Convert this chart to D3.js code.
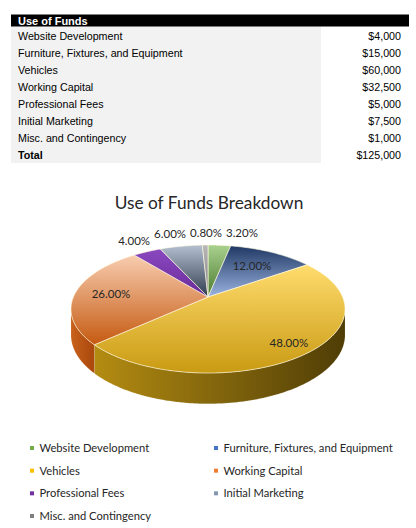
<!DOCTYPE html>
<html>
<head>
<meta charset="utf-8">
<script src="https://cdn.jsdelivr.net/npm/d3@7"></script>
<style>
  body { margin: 0; background: #fff; }
  svg { display: block; }
</style>
</head>
<body>
<div class="vis-funds"></div>
<script>
const categories = [
    "Website Development",
    "Furniture, Fixtures, and Equipment",
    "Vehicles",
    "Working Capital",
    "Professional Fees",
    "Initial Marketing",
    "Misc. and Contingency"
];
const amounts = [4000, 15000, 60000, 32500, 5000, 7500, 1000];
const tableTitle = "Use of Funds";
const totalLabel = "Total";
const chartTitle = "Use of Funds Breakdown";

// top face gradient (far end, near end), side colour pair, legend swatch
const topColors = [
    ["#a9d18e", "#4a7a30"],
    ["#1f3864", "#9ab3e0"],
    ["#ffdc6e", "#c99a12"],
    ["#f8cdb0", "#c55a11"],
    ["#8a48c0", "#6a2c98"],
    ["#b4c0d0", "#2f3c4f"],
    ["#b8b8b8", "#7a7a7a"]
];
const sideColors = [
    ["#5e8c42", "#3c5e28"],
    ["#2f4d8a", "#1f3864"],
    ["#b48c12", "#4f3d06"],
    ["#c8621c", "#a9470c"],
    ["#6a2c98", "#4e1f72"],
    ["#7f8fa6", "#44546a"],
    ["#8a8a8a", "#666666"]
];
const swatchColors = ["#70ad47", "#4472c4", "#ffc000", "#ed7d31", "#7030a0", "#8497b0", "#808080"];

const W = 416, H = 528;
const labelFont = "Lato, 'Open Sans', sans-serif";
const tableFont = "'Liberation Sans', Arial, sans-serif";

const svg = d3.select('.vis-funds').append('svg')
    .attr('width', W)
    .attr('height', H);

// ---------- table ----------
const total = d3.sum(amounts);
const money = d3.format("$,");
const rows = categories.map((c, i) => ({name: c, value: amounts[i], bold: false}));
rows.push({name: totalLabel, value: total, bold: true});

const rowY = d3.scaleBand()
    .domain(d3.range(rows.length))
    .range([28, 164]);

const table = svg.append("g").attr("class", "table");
table.append("rect")
    .attr("x", 11).attr("y", 26)
    .attr("width", 310).attr("height", 137)
    .attr("fill", "#f2f2f2");
table.append("rect")
    .attr("x", 11).attr("y", 14.5)
    .attr("width", 398).attr("height", 12)
    .attr("fill", "#000");
table.append("text")
    .attr("x", 18).attr("y", 21)
    .attr("dy", "0.35em")
    .attr("font-family", tableFont)
    .attr("font-size", 11)
    .attr("font-weight", "bold")
    .attr("fill", "#fff")
    .text(tableTitle);

const row = table.selectAll(".row")
    .data(rows)
    .enter().append("g")
    .attr("class", "row")
    .attr("transform", (d, i) => "translate(0," + (rowY(i) + rowY.bandwidth() / 2) + ")")
    .attr("font-family", tableFont)
    .attr("font-size", 10.7)
    .attr("fill", "#000")
    .attr("font-weight", d => d.bold ? "bold" : "normal");
row.append("text")
    .attr("x", 18)
    .attr("dy", "0.35em")
    .text(d => d.name);
row.append("text")
    .attr("x", 401)
    .attr("dy", "0.35em")
    .attr("text-anchor", "end")
    .attr("font-weight", "normal")
    .text(d => money(d.value));

// ---------- chart title ----------
svg.append("text")
    .attr("x", 209).attr("y", 203)
    .attr("dy", "0.35em")
    .attr("text-anchor", "middle")
    .attr("font-family", labelFont)
    .attr("font-size", 17.3)
    .attr("fill", "#262626")
    .text(chartTitle);

// ---------- 3d pie ----------
const P = {cx: 208, cy: 297, rx: 134.6, ry: 61.75, dist: 5.333, depth: 25};

// project an angle (0 = far side, clockwise) onto the tilted disc
function proj(a, r = 1, drop = 0) {
    const f = P.dist / (P.dist + r * Math.cos(a));
    return [
        P.cx + P.rx * r * Math.sin(a) * f,
        P.cy - P.ry * r * Math.cos(a) * f + drop * f
    ];
}
function rim(a0, a1, drop) {
    const n = Math.max(2, Math.ceil((a1 - a0) / 0.01));
    return d3.range(n + 1).map(k => proj(a0 + (a1 - a0) * k / n, 1, drop));
}

const arcs = d3.pie().sort(null).startAngle(0).endAngle(2 * Math.PI)(amounts);
const defs = svg.append("defs");

arcs.forEach((d, i) => {
    const gt = defs.append("linearGradient")
        .attr("id", "top" + i)
        .attr("x1", 0).attr("y1", 0).attr("x2", 0).attr("y2", 1);
    gt.append("stop").attr("offset", "0%").attr("stop-color", topColors[i][0]);
    gt.append("stop").attr("offset", "100%").attr("stop-color", topColors[i][1]);
    const gs = defs.append("linearGradient")
        .attr("id", "side" + i)
        .attr("x1", 0).attr("y1", 0).attr("x2", 1).attr("y2", 0);
    gs.append("stop").attr("offset", "0%").attr("stop-color", sideColors[i][0]);
    gs.append("stop").attr("offset", "100%").attr("stop-color", sideColors[i][1]);
});

const line = d3.line();
const pieG = svg.append("g").attr("class", "pie");

// visible outer wall lies between the two silhouette angles
const sil0 = Math.acos(-1 / P.dist);
const sil1 = 2 * Math.PI - sil0;

arcs.forEach((d, i) => {
    const s = Math.max(d.startAngle, sil0);
    const e = Math.min(d.endAngle, sil1);
    if (e <= s) return;
    const pts = rim(s, e, 0).concat(rim(s, e, P.depth).reverse());
    pieG.append("path")
        .attr("d", line(pts) + "Z")
        .attr("fill", "url(#side" + i + ")")
        .attr("stroke", "rgba(255,255,255,0.25)")
        .attr("stroke-width", 0.5);
});

pieG.selectAll(".slice")
    .data(arcs)
    .enter().append("path")
    .attr("class", "slice")
    .attr("d", d => line([[P.cx, P.cy]].concat(rim(d.startAngle, d.endAngle, 0))) + "Z")
    .attr("fill", (d, i) => "url(#top" + i + ")")
    .attr("stroke", "rgba(255,250,225,0.8)")
    .attr("stroke-width", 0.8)
    .attr("stroke-linejoin", "round");

// ---------- data labels ----------
const pct = d3.format(".2%");
const labelG = svg.append("g")
    .attr("font-family", labelFont)
    .attr("font-size", 11.5)
    .attr("fill", "#262626");

const labels = arcs.map((d, i) => {
    const share = d.value / total;
    const mid = (d.startAngle + d.endAngle) / 2;
    return {i, share, mid, inside: share >= 0.1, text: pct(share)};
});

labels.forEach(l => {
    l.node = labelG.append("text")
        .attr("text-anchor", "middle")
        .attr("dy", "0.35em")
        .text(l.text);
    l.w = l.node.node().getComputedTextLength();
    if (l.inside) {
        [l.x, l.y] = proj(l.mid, 0.6 + l.share * 0.5);
    } else {
        const [rx, ry] = proj(l.mid, 1);
        l.x = rx + Math.sin(l.mid) * (l.w / 2 + 8) + 4;
        l.y = ry - Math.cos(l.mid) * 12.5;
    }
});

// spread the outside labels so they do not overlap
const outside = labels.filter(l => !l.inside).sort((a, b) => a.x - b.x);
for (let iter = 0; iter < 200; iter++) {
    let moved = false;
    for (let k = 1; k < outside.length; k++) {
        const a = outside[k - 1], b = outside[k];
        const gap = (a.x + a.w / 2 + 4) - (b.x - b.w / 2);
        if (gap > 0.01 && Math.abs(a.y - b.y) < 12) {
            a.x -= gap / 2;
            b.x += gap / 2;
            moved = true;
        }
    }
    if (!moved) break;
}
labels.forEach(l => l.node.attr("x", l.x).attr("y", l.y));

// ---------- legend ----------
const legend = svg.append("g")
    .attr("font-family", labelFont)
    .attr("font-size", 11.2)
    .attr("fill", "#262626");
const colX = d3.scaleOrdinal().domain([0, 1]).range([32, 216]);
const rowL = d3.scaleLinear().domain([0, 3]).range([448, 516]);

const item = legend.selectAll(".item")
    .data(categories)
    .enter().append("g")
    .attr("class", "item")
    .attr("transform", (d, i) => "translate(" + colX(i % 2) + "," + rowL(Math.floor(i / 2)) + ")");
item.append("rect")
    .attr("x", -2).attr("y", -2)
    .attr("width", 4).attr("height", 4)
    .attr("fill", (d, i) => swatchColors[i]);
item.append("text")
    .attr("x", 7.5)
    .attr("dy", "0.35em")
    .text(d => d);
</script>
</body>
</html>
